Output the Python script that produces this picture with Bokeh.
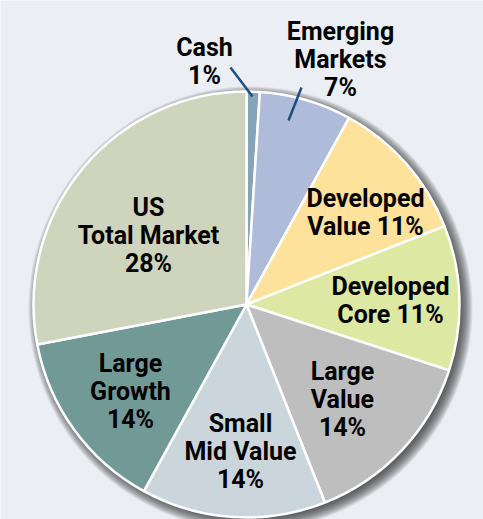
import numpy as np
from bokeh.plotting import figure
from bokeh.models import ColumnDataSource
from bokeh.core.properties import value
from bokeh.embed import file_html
from bokeh.resources import INLINE

# ---- data ----
categories = ["Cash", "Emerging Markets", "Developed Value", "Developed Core",
              "Large Value", "Small Mid Value", "Large Growth", "US Total Market"]
shares = [1, 7, 11, 11, 14, 14, 14, 28]
labels = ["Cash\n1%", "Emerging\nMarkets\n7%", "Developed\nValue 11%", "Developed\nCore 11%",
          "Large\nValue\n14%", "Small\nMid Value\n14%", "Large\nGrowth\n14%", "US\nTotal Market\n28%"]
colors = ["#86a3b7", "#aebbd9", "#fee29c", "#dde8a2",
          "#bebebf", "#cbd6dc", "#719996", "#cfd4bc"]

# ---- layout (page pixel coords, y downward) ----
CX, CY, R = 246, 304, 213
label_pos = [(204, 61), (340, 59), (365, 212), (390, 300),
             (342, 399), (240, 451), (130, 391), (148, 235)]
leaders = [((230, 67), (252, 96)), ((301, 87), (288, 120))]
BG = "#ebeff3"
FONT = "Roboto"

W, H = 483, 519
p = figure(width=W, height=H, x_range=(0, W), y_range=(-H, 0),
           output_backend="svg", toolbar_location=None, min_border=0,
           background_fill_color=BG, border_fill_color=BG, outline_line_color=None)
p.axis.visible = False
p.grid.visible = False

# shadow
for i in range(14):
    p.circle(x=CX + 4, y=-(CY + 4), radius=R + 9 - i * 0.9,
             fill_color="#2a2a2a", fill_alpha=0.085, line_color=None)

frac = np.array(shares, dtype=float) / sum(shares)
cum = np.cumsum(frac)
start = np.pi / 2 - (cum - frac) * 2 * np.pi
end = np.pi / 2 - cum * 2 * np.pi
src = ColumnDataSource(dict(cat=categories, start=start, end=end, color=colors))
p.wedge(x=CX, y=-CY, radius=R, start_angle="start", end_angle="end", direction="clock",
        fill_color="color", line_color="white", line_width=2.5, source=src)

for (a, b) in leaders:
    p.line(x=[a[0], b[0]], y=[-a[1], -b[1]], line_color="#1b4f7e", line_width=2.5)

lsrc = ColumnDataSource(dict(x=[q[0] for q in label_pos], y=[-q[1] for q in label_pos], t=labels))
p.text(x="x", y="y", text="t", source=lsrc, text_font=value(FONT), text_font_size="25px",
       text_font_style="bold", text_align="center", text_baseline="middle",
       text_line_height=0.96, text_color="black")

open("out.html", "w").write(file_html(p, INLINE))
